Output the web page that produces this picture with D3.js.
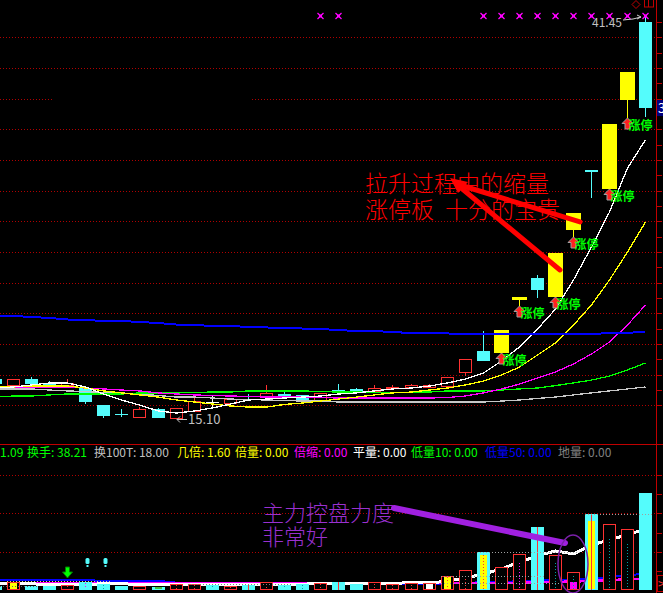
<!DOCTYPE html>
<html><head><meta charset="utf-8">
<script src="https://cdn.jsdelivr.net/npm/d3@7/dist/d3.min.js"></script>
<style>
html,body{margin:0;padding:0;background:#000;overflow:hidden;}
svg{display:block;}
text{font-family:"Noto Sans CJK SC","Noto Sans",sans-serif;}
</style></head><body>
<svg id="chart" width="663" height="593"></svg>
<script>
// ================= DATA =================
const days = d3.range(1, 38).map(d => "T" + String(d).padStart(2, "0"));

const openPrice  = [17.71,17.25,17.71,17.40,17.25,17.12,16.01,15.40,15.16,15.75,15.12,15.56,16.21,16.08,16.60,16.53,16.73,16.67,16.27,16.99,17.06,16.86,17.12,17.12,17.12,17.19,18.10,19.54,19.40,22.99,24.30,23.06,27.43,31.34,30.10,35.91,40.99];
const highPrice  = [17.75,17.71,17.84,17.58,17.71,17.12,16.01,15.75,15.88,15.82,15.82,16.47,16.60,16.47,16.73,17.32,16.99,16.67,16.80,17.38,17.12,17.32,17.32,17.38,17.38,17.84,19.01,20.84,20.90,22.99,24.49,25.93,28.54,31.34,34.34,37.73,41.45];
const lowPrice   = [17.38,17.19,17.38,17.25,17.25,16.08,15.17,15.23,15.16,15.17,15.10,15.56,15.88,16.08,16.40,16.47,16.53,16.27,16.27,16.73,16.80,16.86,16.99,17.06,17.12,17.06,17.90,18.88,19.40,22.47,22.99,23.06,26.97,29.51,30.10,34.73,34.80];
const closePrice = [17.38,17.71,17.38,17.38,17.45,16.21,15.30,15.36,15.75,15.17,15.82,16.27,16.21,16.40,16.53,16.80,16.60,16.27,16.80,16.95,16.86,17.12,17.19,17.32,17.32,17.84,19.01,18.88,20.90,22.99,23.51,25.93,28.54,31.21,34.34,37.73,35.38];

const ma5   = [17.12,17.19,17.32,17.45,17.45,17.19,16.73,16.34,16.01,15.62,15.49,15.62,15.82,16.08,16.34,16.40,16.47,16.53,16.60,16.73,16.80,16.93,17.06,17.12,17.25,17.45,17.71,18.10,18.88,19.80,20.97,22.27,24.17,26.32,28.60,31.47,33.30];
const ma10  = [17.19,17.19,17.25,17.25,17.25,17.12,16.93,16.80,16.67,16.53,16.34,16.21,16.08,15.95,15.88,15.88,16.05,16.14,16.27,16.40,16.53,16.67,16.80,16.86,16.99,17.12,17.32,17.58,17.97,18.49,19.27,20.06,21.23,22.54,24.17,25.99,27.95];
const ma20  = [17.19,17.19,17.19,17.19,17.19,17.12,17.06,16.99,16.93,16.80,16.73,16.67,16.63,16.60,16.57,16.53,16.53,16.53,16.50,16.47,16.47,16.47,16.47,16.47,16.47,16.50,16.60,16.80,17.06,17.38,17.77,18.17,18.69,19.34,20.12,21.23,22.54];
const ma60  = [16.53,16.60,16.60,16.67,16.73,16.73,16.73,16.73,16.80,16.80,16.80,16.83,16.86,16.86,16.93,16.93,16.93,16.93,16.89,16.86,16.86,16.83,16.80,16.86,16.86,16.93,16.93,16.93,16.99,17.06,17.12,17.28,17.45,17.64,17.90,18.30,18.75];
const ma120 = [17.06,17.06,17.06,16.99,16.93,16.89,16.83,16.80,16.73,16.63,16.53,16.53,16.47,16.40,16.37,16.34,16.31,16.27,16.27,16.21,16.21,16.21,16.21,16.21,16.21,16.21,16.21,16.21,16.27,16.34,16.44,16.53,16.67,16.80,16.93,17.06,17.19];
const ma250 = [21.82,21.82,21.75,21.69,21.59,21.56,21.49,21.49,21.43,21.36,21.26,21.23,21.17,21.17,21.10,21.07,21.04,21.00,20.97,20.90,20.84,20.84,20.77,20.71,20.71,20.68,20.64,20.64,20.64,20.64,20.64,20.64,20.64,20.64,20.71,20.71,20.81];

const volume   = [1.0,2.1,1.05,1.05,1.3,2.1,1.55,1.05,1.05,0.8,1.55,1.55,1.3,1.05,1.3,2.1,1.3,1.55,1.85,2.1,1.55,2.1,1.55,1.85,1.85,3.65,5.2,9.9,6.0,9.4,16.4,9.1,4.7,19.8,17.2,15.9,25.3];
const volMa5   = [1.6,1.6,1.6,1.45,1.45,1.5,1.6,1.6,1.5,1.4,1.35,1.35,1.4,1.45,1.4,1.5,1.55,1.55,1.6,1.7,1.75,1.8,1.8,1.85,1.85,2.3,3.1,4.2,5.5,7.3,8.9,10.2,9.4,11.7,13.1,14.4,15.9];
const volMaM   = [1.85,1.85,1.85,1.85,1.85,1.85,1.85,1.85,1.85,1.85,1.85,1.85,1.85,1.85,1.85,1.85,1.85,1.85,1.85,1.85,1.85,1.85,1.85,1.85,1.85,1.85,1.85,1.85,1.85,1.85,2.0,2.1,2.2,2.4,2.6,2.75,2.9];
const volMaB   = [2.6,2.6,2.6,2.5,2.5,2.5,2.45,2.45,2.45,2.4,1.9,1.6,1.6,1.6,1.6,1.6,1.6,1.6,1.6,1.6,1.6,1.6,1.6,1.6,1.6,1.6,1.9,2.0,2.1,2.3,2.5,2.6,2.75,3.0,3.4,3.9,4.2];

const limitUpIdx = [28, 29, 31, 32, 34, 35];
const signalIdx  = [18, 19, 27, 28, 29, 30, 31, 32, 33, 34, 35, 36];
const innerBars  = [{i:1,v:1.8,c:"#ffff00"},{i:9,v:0.8,c:"#40c040"},{i:24,v:1.55,c:"#ffffff"},{i:25,v:3.4,c:"#ffff00"},{i:27,v:9.2,c:"#ffff00"},{i:32,v:2.1,c:"#ff00ff"},{i:33,v:17.9,c:"#ffff00"}];
const innerDots  = [{i:4,v:1.0,c:"#ff3232"},{i:5,v:1.8,c:"#ff00ff"},{i:6,v:1.3,c:"#00a0a0"},{i:10,v:1.2,c:"#ff3232"},{i:11,v:1.2,c:"#ff3232"},{i:12,v:1.0,c:"#00a0a0"},{i:13,v:0.8,c:"#ff3232"},{i:15,v:1.6,c:"#ff3232"},{i:16,v:1.0,c:"#00a0a0"},{i:17,v:1.2,c:"#00a0a0"},{i:18,v:1.5,c:"#ff3232"},{i:21,v:1.5,c:"#ff3232"},{i:22,v:1.2,c:"#ff3232"},{i:23,v:1.4,c:"#ff3232"},{i:25,v:3.4,c:"#ff3232"},{i:26,v:3.7,c:"#ff3232"},{i:27,v:9.1,c:"#ff3232"},{i:29,v:7.0,c:"#ff00ff"},{i:31,v:7.0,c:"#00a0a0"},{i:32,v:3.7,c:"#00a0a0"},{i:34,v:13.2,c:"#00a0a0"},{i:35,v:12.0,c:"#00a0a0"}];
const innerSolid = [{i:14,v:1.3},{i:19,v:2.1},{i:30,v:16.4},{i:33,v:19.8}];
const volLevels  = [{from:0,to:2,v:1.0,c:"#606060"},{from:1,to:6,v:2.35,c:"#e0e080"},{from:11,to:16,v:1.55,c:"#808080"},{from:25,to:31,v:1.85,c:"#a0a0a0"},{from:25,to:30,v:3.65,c:"#a0a0a0"},{from:27,to:32,v:9.9,c:"#a0a0a0"},{from:33,to:36,v:19.8,c:"#a0a0a0"}];

const priceGridTicks = d3.range(16, 41, 2);
const priceAxisTicks = d3.range(16, 42, 1);
const volGridTicks = [10, 20, 30];
const volAxisTicks = [5, 10, 15, 20, 25, 30];
const highLabel = "41.45", lowLabel = "15.10", lastLabel = "35.38";
const indLabels = ["", "换手", "换100T", "几倍", "倍量", "倍缩", "平量", "低量10", "低量50", "地量"];
const indValues = ["1.09", "38.21", "18.00", "1.60", "0.00", "0.00", "0.00", "0.00", "0.00", "0.00"];
const noteMain = ["拉升过程中的缩量", "涨停板", "十分的宝贵"];
const noteVol = ["主力控盘力度", "非常好"];
const limitText = "涨停";

// ================= DRAW =================
const RED = "#ff3232", CYAN = "#54fcfc", YELLOW = "#ffff00", WHITE = "#ffffff", GRID = "#b00000", AXIS = "#c00000";
const svg = d3.select("#chart");
svg.append("rect").attr("width", 663).attr("height", 593).attr("fill", "#000");

const x = d3.scaleBand().domain(days).range([-14.105, 654.485]).paddingInner(0.28).paddingOuter(0.14);
const cx = i => Math.round(x(days[i]) + x.bandwidth() / 2);
const y = d3.scaleLinear().domain([15.10, 41.45]).range([419, 15]);
const yv = d3.scaleLinear().domain([0, 30]).range([590, 475]);

// grid main
const grid = svg.append("g").attr("stroke", GRID).attr("stroke-dasharray", "1,2").attr("shape-rendering", "crispEdges");
priceGridTicks.forEach(t => {
  const yy = Math.round(y(t)) + 0.5;
  if (t === 36) {
    grid.append("line").attr("x1", 0).attr("x2", 53).attr("y1", yy).attr("y2", yy);
    grid.append("line").attr("x1", 252).attr("x2", 656).attr("y1", yy).attr("y2", yy);
  } else grid.append("line").attr("x1", 0).attr("x2", 656).attr("y1", yy).attr("y2", yy);
});
volGridTicks.forEach(t => {
  const yy = Math.round(yv(t)) + 0.5;
  grid.append("line").attr("x1", 0).attr("x2", 656).attr("y1", yy).attr("y2", yy);
});

// candles
const cg = svg.append("g").attr("shape-rendering", "crispEdges");
days.forEach((d, i) => {
  const c = cx(i);
  const o = openPrice[i], h = highPrice[i], l = lowPrice[i], cl = closePrice[i];
  const lim = limitUpIdx.includes(i);
  let col, hollow = false;
  if (lim) col = YELLOW;
  else if (cl > o) { col = RED; hollow = true; }
  else if (cl < o) col = CYAN;
  else col = WHITE;
  cg.append("line").attr("x1", c + 0.5).attr("x2", c + 0.5).attr("y1", Math.round(y(h))).attr("y2", Math.round(y(l))).attr("stroke", col);
  let top = Math.round(y(Math.max(o, cl)));
  let hgt = Math.max(1, Math.round(y(Math.min(o, cl))) - top);
  if (lim && hgt < 3) { top -= 1; hgt = 3; }
  if (hollow) {
    cg.append("rect").attr("x", c - 5.5).attr("y", top + 0.5).attr("width", 12).attr("height", Math.max(hgt - 1, 1))
      .attr("fill", "#000").attr("stroke", col);
  } else {
    const w = lim ? 15 : 13;
    cg.append("rect").attr("x", c - (w - 1) / 2).attr("y", top).attr("width", w).attr("height", hgt).attr("fill", col);
  }
});

// moving averages
const lineFor = arr => d3.line().x((v, i) => cx(i) + 0.5).y(v => y(v))(arr);
const mg = svg.append("g").attr("fill", "none").attr("shape-rendering", "crispEdges");
[[ma120, "#c8c8c8", 1.3], [ma60, "#00ff00", 1.3], [ma20, "#ff00ff", 1.3], [ma10, "#ffff00", 1.3], [ma5, "#ffffff", 1.3], [ma250, "#0000ff", 2]]
  .forEach(([arr, col, w]) => mg.append("path").attr("d", lineFor(arr)).attr("stroke", col).attr("stroke-width", w));

// limit-up marks
limitUpIdx.forEach(i => {
  const c = cx(i) + 0.5, t = Math.round(y(lowPrice[i]));
  svg.append("path").attr("d", `M${c},${t} L${c + 5.5},${t + 5.5} L${c + 2.5},${t + 5.5} L${c + 2.5},${t + 11} L${c - 2.5},${t + 11} L${c - 2.5},${t + 5.5} L${c - 5.5},${t + 5.5} Z`)
    .attr("fill", "#ff2020").attr("stroke", "#a0a0a0").attr("stroke-width", 1);
  svg.append("text").attr("x", c + 1).attr("y", t + 12).attr("fill", "#00ff00").attr("font-size", 12).attr("font-weight", "bold").text(limitText);
});

// signal markers
signalIdx.forEach(i => {
  const c = cx(i) + 0.5;
  svg.append("path").attr("d", `M${c - 3},${13} L${c + 3},${19} M${c + 3},${13} L${c - 3},${19}`).attr("stroke", "#ff00ff").attr("stroke-width", 1.3);
  svg.append("rect").attr("x", c - 1.5).attr("y", 14.5).attr("width", 3).attr("height", 3).attr("fill", "#ff00ff");
});

// high / low labels
const hi = highPrice.indexOf(d3.max(highPrice)), lo = lowPrice.indexOf(d3.min(lowPrice));
const hy = y(highPrice[hi]), ly = Math.round(y(lowPrice[lo])) + 0.5;
svg.append("text").attr("x", cx(hi) - 53).attr("y", hy + 12).attr("fill", "#c0c0c0").attr("font-size", 12).attr("font-family", "Liberation Sans, sans-serif").text(highLabel);
svg.append("path").attr("d", `M${cx(hi) - 22},${hy + 5} L${cx(hi) - 12},${hy + 4} L${cx(hi) - 4},${hy + 2} M${cx(hi) - 8},${hy} L${cx(hi) - 4},${hy + 2} L${cx(hi) - 8},${hy + 4}`)
  .attr("stroke", "#d0d0d0").attr("fill", "none");
svg.append("path").attr("d", `M${cx(lo) + 11},${ly} L${cx(lo) + 1},${ly} M${cx(lo) + 4},${ly - 3} L${cx(lo) + 1},${ly} L${cx(lo) + 4},${ly + 3}`)
  .attr("stroke", "#c0c0c0").attr("fill", "none");
svg.append("text").attr("x", cx(lo) + 12).attr("y", ly + 4.5).attr("fill", "#c0c0c0").attr("font-size", 13).attr("font-family", "Liberation Sans, sans-serif").text(lowLabel);

// red annotation
const noteStyle = s => s.attr("fill", "#ff0000").attr("font-size", 23).attr("font-weight", 300);
noteStyle(svg.append("text").attr("x", 365).attr("y", 192).text(noteMain[0]));
noteStyle(svg.append("text").attr("x", 365).attr("y", 218).text(noteMain[1]));
noteStyle(svg.append("text").attr("x", 445).attr("y", 218).text(noteMain[2]));
const ra = svg.append("g").attr("stroke", "#ff0000").attr("stroke-width", 5).attr("stroke-linecap", "round");
ra.append("line").attr("x1", 460).attr("y1", 185).attr("x2", cx(32) + 7).attr("y2", y(closePrice[32]) + 9);
ra.append("line").attr("x1", 460).attr("y1", 187).attr("x2", cx(31) + 5).attr("y2", y(openPrice[31]) - 27);
svg.append("path").attr("d", "M450,178 L468,182 L458,193 Z").attr("fill", "#ff0000");

// axis / separators
const ax = svg.append("g").attr("stroke", AXIS).attr("shape-rendering", "crispEdges");
ax.append("line").attr("x1", 656.5).attr("x2", 656.5).attr("y1", 0).attr("y2", 593);
ax.append("line").attr("x1", 0).attr("x2", 663).attr("y1", 444.5).attr("y2", 444.5);
priceAxisTicks.forEach(t => { const yy = Math.round(y(t)) + 0.5; ax.append("line").attr("x1", 657).attr("x2", 662).attr("y1", yy).attr("y2", yy); });
volAxisTicks.forEach(t => { const yy = Math.round(yv(t)) + 0.5; ax.append("line").attr("x1", 657).attr("x2", 662).attr("y1", yy).attr("y2", yy); });
const ly2 = y(closePrice[closePrice.length - 1]);
svg.append("rect").attr("x", 657).attr("y", ly2 - 8).attr("width", 40).attr("height", 16).attr("fill", "#000080");
svg.append("text").attr("x", 658).attr("y", ly2 + 5).attr("fill", "#ffffff").attr("font-size", 13).attr("font-family", "Liberation Sans, sans-serif").text(lastLabel);
// top-right icons
svg.append("path").attr("d", "M636,0.5 L640,4.5 L636,8.5 L632,4.5 Z").attr("fill", "none").attr("stroke", AXIS);
svg.append("rect").attr("x", 644.5).attr("y", -1).attr("width", 9).attr("height", 8).attr("fill", "none").attr("stroke", AXIS);
svg.append("line").attr("x1", 648.5).attr("x2", 648.5).attr("y1", 0).attr("y2", 7).attr("stroke", AXIS);
// bottom-right box
svg.append("rect").attr("x", 657.5).attr("y", 575.5).attr("width", 8).attr("height", 16).attr("fill", "#000").attr("stroke", AXIS);
svg.append("text").attr("x", 658).attr("y", 588).attr("fill", "#ff3232").attr("font-size", 12).text(">");

// indicator row
const indColors = ["#00ff00", "#00ff00", "#c0c0c0", "#ffff00", "#ffff00", "#ff00ff", "#ffffff", "#00ff00", "#0000ff", "#808080"];
const indX = [0, 27, 94, 177, 235, 294, 353, 411, 485, 558];
indLabels.forEach((lb, k) => {
  svg.append("text").attr("x", indX[k]).attr("y", 457).attr("fill", indColors[k]).attr("font-size", 12)
    .text(lb ? lb + ": " + indValues[k] : indValues[k]);
});

// volume lines (under bars)
const vline = arr => d3.line().x((v, i) => cx(i) + 0.5).y(v => yv(v))(arr);
const vg = svg.append("g").attr("fill", "none").attr("shape-rendering", "crispEdges");
vg.append("path").attr("d", vline(volMaB)).attr("stroke", "#0000ff").attr("stroke-width", 2);
vg.append("path").attr("d", vline(volMaM)).attr("stroke", "#ff00ff").attr("stroke-width", 2.5);
vg.append("path").attr("d", vline(volMa5)).attr("stroke", "#ffffff").attr("stroke-width", 3);

// volume bars
const vb = svg.append("g").attr("shape-rendering", "crispEdges");
volume.forEach((v, i) => {
  const c = cx(i), o = openPrice[i], cl = closePrice[i];
  const up = cl > o || (cl === o && i > 0 && cl > closePrice[i - 1]);
  const top = Math.round(yv(v));
  if (up) vb.append("rect").attr("x", c - 5.5).attr("y", top + 0.5).attr("width", 12).attr("height", 589 - top).attr("fill", "#000").attr("stroke", RED);
  else vb.append("rect").attr("x", c - 6).attr("y", top).attr("width", 13).attr("height", 590 - top).attr("fill", CYAN);
});
innerBars.forEach(b => {
  const top = Math.round(yv(b.v));
  vb.append("rect").attr("x", cx(b.i) - 3).attr("y", top).attr("width", 7).attr("height", 589 - top).attr("fill", b.c);
});
innerDots.forEach(b => {
  const top = Math.round(yv(b.v));
  vb.append("line").attr("x1", cx(b.i) + 0.5).attr("x2", cx(b.i) + 0.5).attr("y1", top).attr("y2", 589).attr("stroke", b.c).attr("stroke-dasharray", "1,2");
});
innerSolid.forEach(b => {
  const top = Math.round(yv(b.v));
  vb.append("line").attr("x1", cx(b.i) + 0.5).attr("x2", cx(b.i) + 0.5).attr("y1", top).attr("y2", 590).attr("stroke", RED);
});
volLevels.forEach(l => {
  const yy = Math.round(yv(l.v)) + 0.5;
  vb.append("line").attr("x1", Math.max(0, cx(l.from) - 6)).attr("x2", Math.min(655, cx(l.to) + 7)).attr("y1", yy).attr("y2", yy)
    .attr("stroke", l.c).attr("stroke-dasharray", "1,2");
});

// small signals in volume panel
const ga = cx(4) + 0.5;
svg.append("path").attr("d", `M${ga - 2},567 L${ga + 2},567 L${ga + 2},572 L${ga + 5},572 L${ga},578 L${ga - 5},572 L${ga - 2},572 Z`).attr("fill", "#00ff00").attr("stroke", "#008000");
[5, 6].forEach(i => {
  const c = cx(i) + 2.5;
  svg.append("rect").attr("x", c - 2).attr("y", 558).attr("width", 4).attr("height", 6).attr("rx", 1.5).attr("fill", CYAN);
  svg.append("rect").attr("x", c - 1).attr("y", 565).attr("width", 2).attr("height", 2).attr("fill", CYAN);
});

// purple annotation
const purple = s => s.attr("fill", "#9a30d0").attr("font-size", 22).attr("font-weight", 300);
purple(svg.append("text").attr("x", 262).attr("y", 521).text(noteVol[0]));
purple(svg.append("text").attr("x", 262).attr("y", 545).text(noteVol[1]));
svg.append("line").attr("x1", 394).attr("y1", 508).attr("x2", 565).attr("y2", 543).attr("stroke", "#a020e0").attr("stroke-width", 6).attr("stroke-linecap", "round");
svg.append("ellipse").attr("cx", cx(32)).attr("cy", 564).attr("rx", 15).attr("ry", 29).attr("fill", "none").attr("stroke", "#7a20a8").attr("stroke-width", 1.5);
</script>
</body></html>
